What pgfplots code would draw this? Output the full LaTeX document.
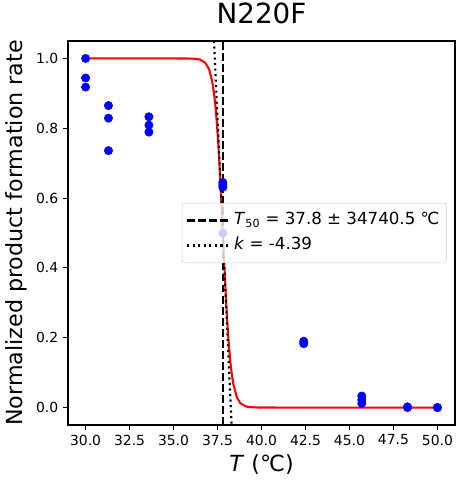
\documentclass[border=0pt]{standalone}
\usepackage{pgfplots}
\pgfplotsset{compat=1.18}
\usepackage{fontspec}
\setmainfont{DejaVu Sans}
\begin{document}
\begin{tikzpicture}
\path[use as bounding box] (-48.96pt,-44.64pt) rectangle (285.12pt,306pt);
\begin{axis}[
  at={(0,0)}, anchor=south west,
  scale only axis, width=278.64pt, height=276.48pt,
  xmin=29, xmax=51, ymin=-0.05, ymax=1.05,
  xtick={30,32.5,35,37.5,40,42.5,45,47.5,50},
  ytick={0,0.2,0.4,0.6,0.8,1.0},
  tick align=outside, tick pos=left,
  major tick length=3.5pt,
  every tick/.style={black, line width=0.8pt},
  axis line style={line width=0.8pt},
  tick label style={font=\fontsize{10}{12}\selectfont},
  /pgf/number format/.cd, fixed, precision=1, zerofill, assume math mode=true,
  /pgfplots/.cd,
  title={N220F},
  title style={font=\fontsize{20}{24}\selectfont, at={(axis description cs:0.5,1.050)}, anchor=center},
  xlabel={\textit{T} (℃)},
  xlabel style={font=\fontsize{16}{19}\selectfont, at={(axis description cs:0.5,-0.104)}, anchor=center},
  ylabel={Normalized product formation rate},
  ylabel style={font=\fontsize{16}{19}\selectfont, at={(axis description cs:-0.133,0.5)}, anchor=center, rotate=0},
  legend style={at={(axis description cs:1,0.5)}, xshift=-6pt, anchor=east,
    font=\fontsize{12}{14}\selectfont, draw=black!20, fill=white, fill opacity=0.8, text opacity=1,
    rounded corners=2pt, inner xsep=3pt, inner ysep=3.5pt, row sep=0pt,
    cells={anchor=west}, nodes={inner sep=2pt, text height=10pt, text depth=4pt}},
  legend image code/.code={\draw[#1] (0pt,0pt) -- (21.6pt,0pt); \path (0pt,0pt) -- (31pt,0pt);},
]
\addplot[only marks, mark=*, mark size=3pt, color=blue, forget plot] coordinates {
  (30,1.0) (30,0.944) (30,0.918)
  (31.3,0.865) (31.3,0.829) (31.3,0.736)
  (33.6,0.833) (33.6,0.809) (33.6,0.789)
  (37.8,0.645) (37.8,0.638) (37.8,0.631) (37.8,0.50)
  (42.4,0.19) (42.4,0.183)
  (45.7,0.033) (45.7,0.022) (45.7,0.012)
  (48.3,0.002) (48.3,0.0)
  (50,0.0) (50,0.0)
};
\addplot[red, line width=1.5pt, forget plot] coordinates {
  (30,1.0) (32,1.0) (34,1.0) (35,0.999995) (35.5,0.99996) (36.0,0.99963)
  (36.3,0.99862) (36.5,0.99669) (36.8,0.98774) (37.0,0.97103) (37.05,0.96416)
  (37.2,0.93302) (37.3,0.89979) (37.35,0.87821) (37.4,0.85276) (37.45,0.82296)
  (37.5,0.78867) (37.55,0.74979) (37.6,0.70641) (37.65,0.65890) (37.7,0.60801)
  (37.75,0.55470) (37.8,0.5) (37.85,0.44530) (37.9,0.39199) (37.95,0.34110)
  (38.0,0.29359) (38.05,0.25021) (38.1,0.21133) (38.15,0.17704) (38.2,0.14724)
  (38.25,0.12179) (38.3,0.10021) (38.4,0.06698) (38.6,0.02897) (38.8,0.01226)
  (39.1,0.00331) (39.3,0.00138) (39.6,0.00037) (40.0,0.00006) (41,0.0) (45,0.0) (50,0.0)
};
\addplot[black, line width=1.5pt, dash pattern=on 5.55pt off 2.4pt] coordinates {(37.8,-0.05) (37.8,1.05)};
\addlegendentry{\textit{T}\textsubscript{50} = 37.8 ± 34740.5 ℃}
\addplot[black, line width=1.5pt, dash pattern=on 1.5pt off 2.475pt] coordinates {(37.299,1.05) (38.301,-0.05)};
\addlegendentry{\textit{k} = -4.39}
\end{axis}
\end{tikzpicture}
\end{document}
